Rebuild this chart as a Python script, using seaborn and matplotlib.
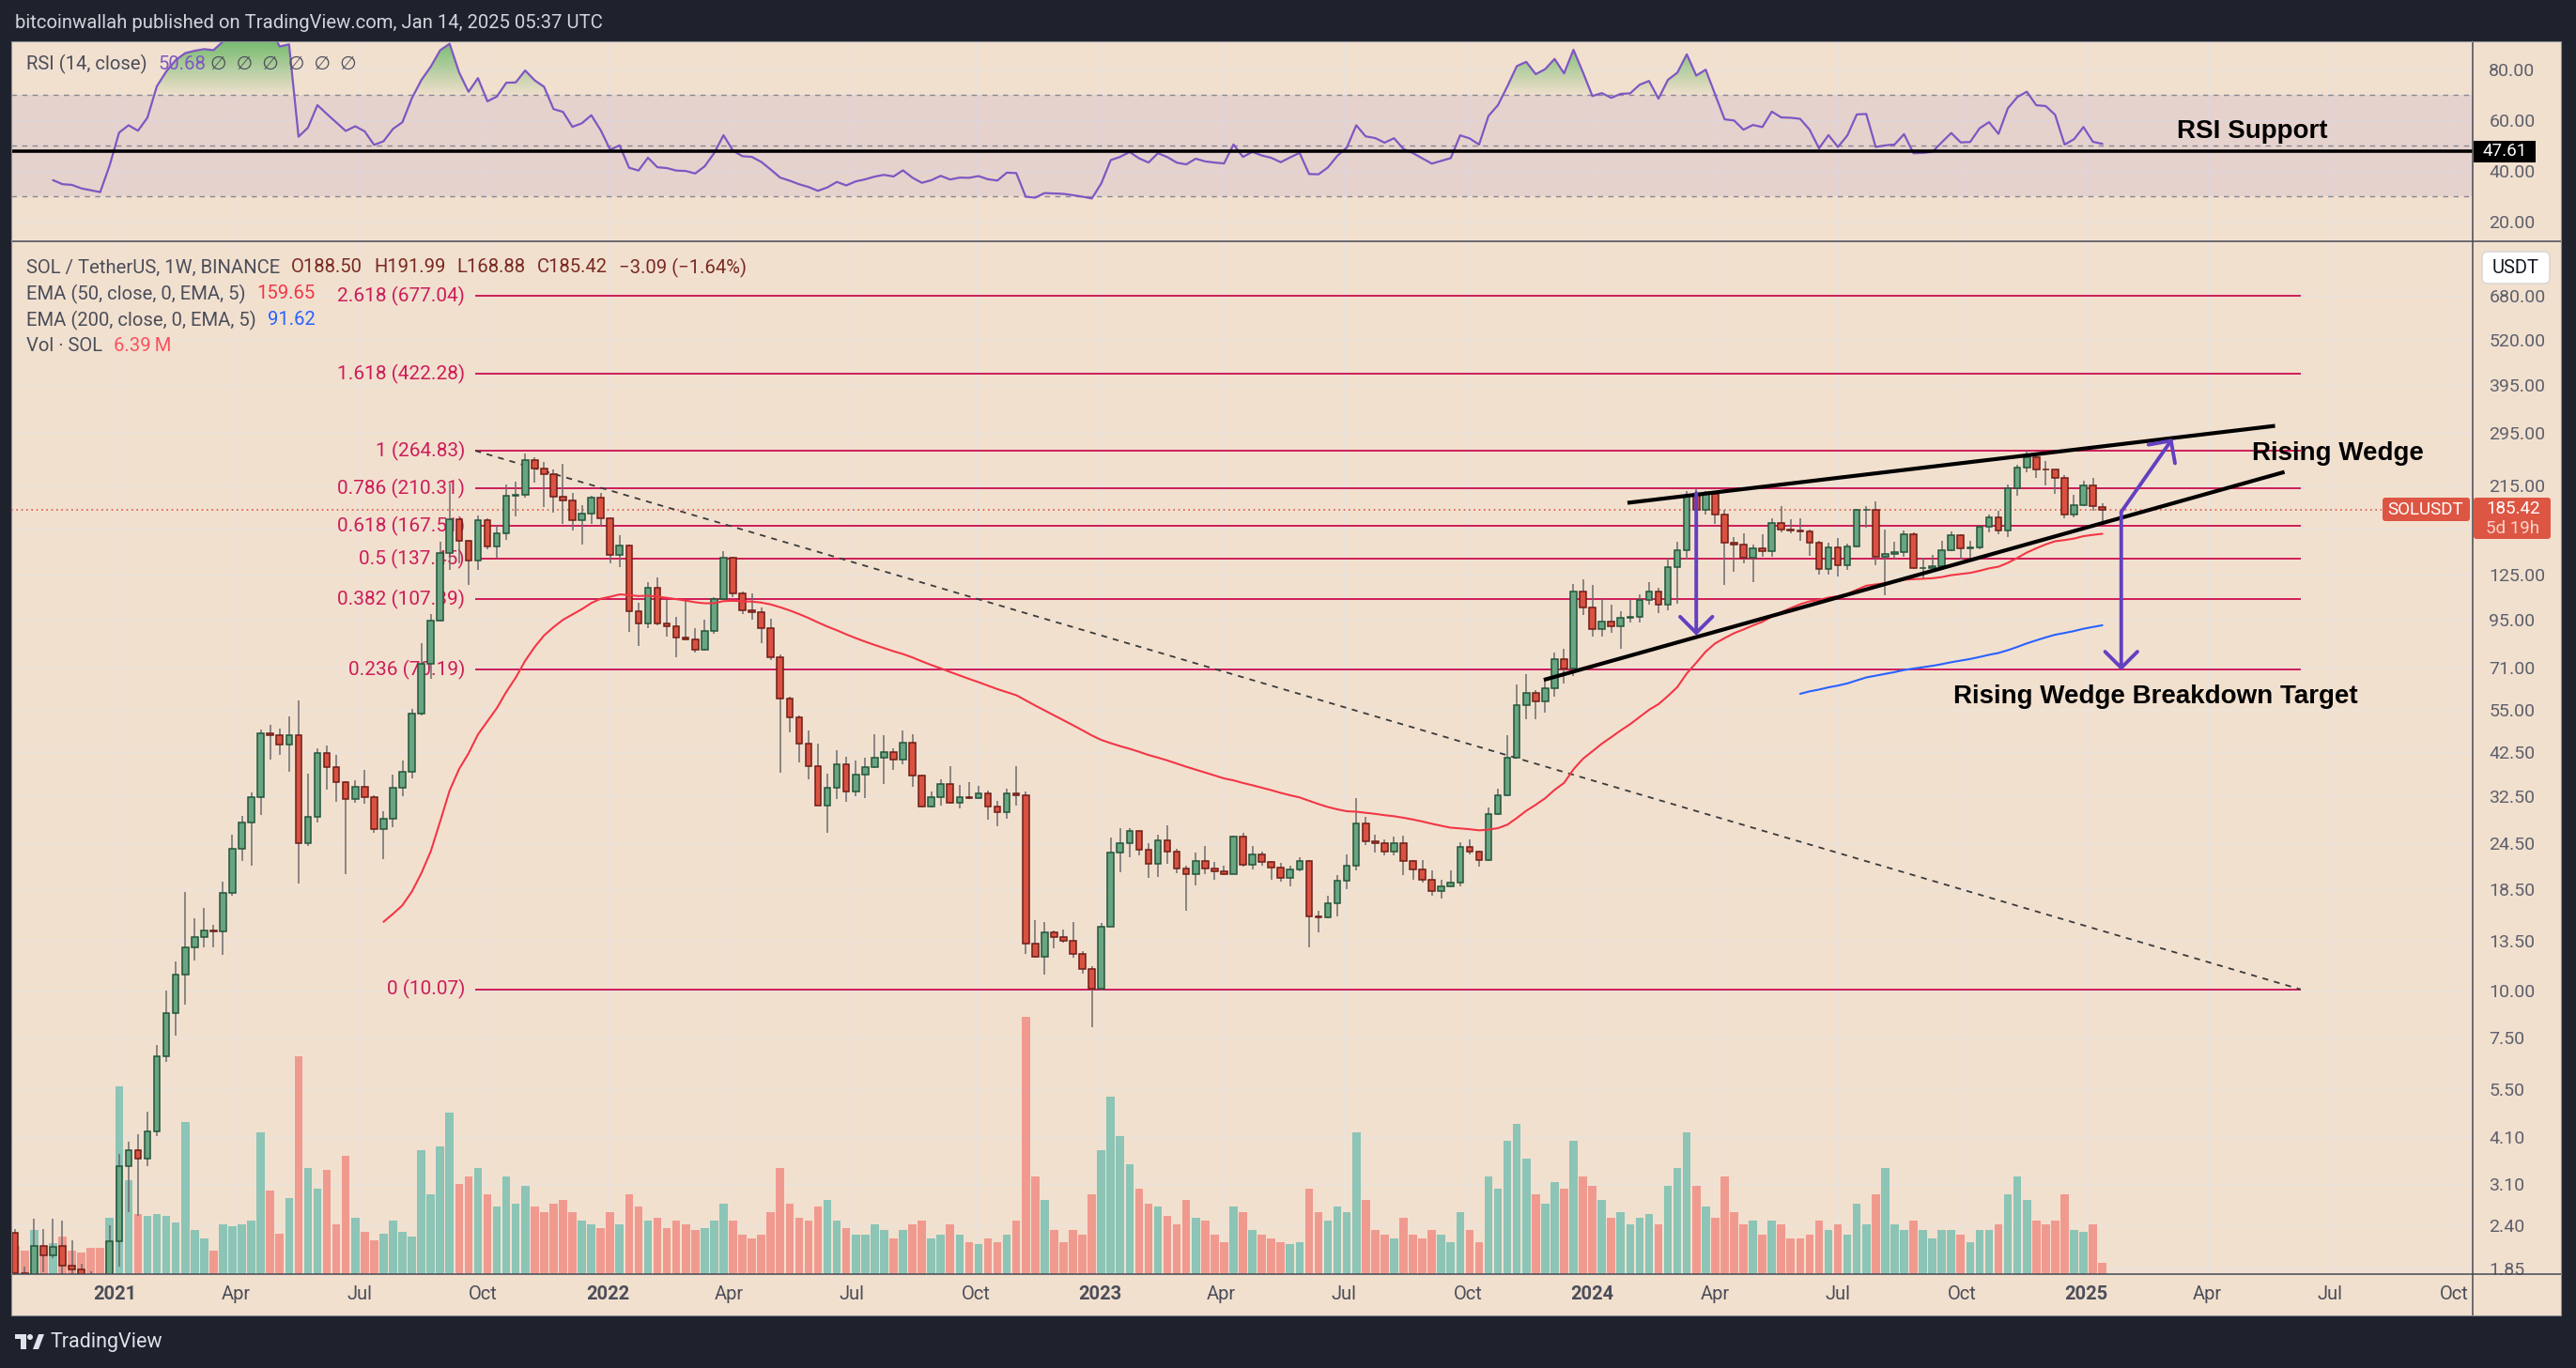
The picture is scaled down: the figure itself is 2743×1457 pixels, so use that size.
import numpy as np
import pandas as pd
import matplotlib
matplotlib.use("Agg")
import matplotlib.pyplot as plt
import matplotlib.dates as mdates
from matplotlib.patches import Rectangle, FancyBboxPatch, Polygon, Circle
from matplotlib.path import Path
from matplotlib.ticker import NullLocator
import seaborn as sns

# ---------------- data (weekly SOL/USDT candles) ----------------
start_date = "2020-08-10"

opens = [3.05, 3.60, 3.45, 4.30, 2.85, 2.70, 3.20, 2.95, 2.65, 2.55,
         2.30, 1.80, 1.60, 2.12, 2.00, 2.12, 1.88, 1.84, 1.65, 1.55,
         1.45, 2.18, 3.44, 3.80, 3.60, 4.26, 6.70, 8.70, 11.0, 13.0,
         13.8, 14.4, 14.35, 18.1, 23.7, 27.8, 32.3, 47.6, 47.0, 44.4,
         47.0, 24.4, 28.7, 42.2, 38.8, 35.4, 31.9, 34.4, 32.4, 26.7,
         28.3, 34.2, 37.7, 53.8, 72.8, 94.4, 142, 174.5, 153, 135.7,
         173.5, 148, 160, 202, 203, 250, 238, 230, 200, 196,
         173.5, 181, 199, 176, 141, 149, 100, 93, 115.6, 93,
         91, 85.2, 84.3, 79, 88.6, 107.5, 138, 111.2, 100.6, 99.3,
         90.1, 75.6, 59, 52.5, 44.8, 39.0, 30.8, 34.2, 39.6, 33.4,
         37.1, 38.9, 41.2, 42.6, 40.6, 45.1, 36.8, 30.6, 32.3, 35.1,
         31.3, 32.4, 32.2, 33.1, 30.5, 29.5, 33.0, 32.7, 13.3, 12.3,
         14.2, 13.8, 13.5, 12.5, 11.4, 10.1, 14.7, 23.1, 24.4, 26.3,
         23.5, 21.6, 24.9, 23.3, 21.0, 20.3, 22.0, 21.0, 20.6, 20.3,
         25.4, 21.5, 22.8, 21.8, 21.1, 19.8, 20.9, 21.9, 15.7, 15.6,
         17.0, 19.5, 21.4, 27.5, 24.8, 24.4, 23.3, 24.4, 21.9, 20.9,
         19.6, 18.3, 18.8, 19.3, 23.9, 23.3, 22.1, 29.2, 32.8, 41.2,
         56.4, 61.0, 58.0, 62.7, 74.9, 70.8, 112.7, 102.5, 89.8, 93.7,
         91.1, 95.9, 96.5, 107.3, 112.6, 103.8, 130.8, 144.9, 202, 185,
         203.5, 180, 151.4, 150, 138.4, 146.3, 143.8, 170.5, 164, 163.6,
         162.5, 151.4, 129.4, 147.1, 131.8, 147.9, 184.6, 185.5, 139, 141.6,
         143, 159.2, 129.7, 130.2, 131.6, 145, 159, 146.5, 147, 167,
         177, 163, 210.5, 238.6, 254, 237, 236, 225, 180.3, 190,
         214, 188.5]

highs = [3.95, 4.00, 4.90, 4.70, 3.10, 3.70, 3.40, 3.10, 2.80, 2.70,
         2.35, 1.87, 2.50, 2.35, 2.50, 2.48, 2.20, 1.90, 1.82, 1.70,
         2.40, 3.70, 4.00, 4.19, 4.80, 7.20, 10.0, 11.9, 18.2, 15.5,
         16.5, 14.9, 19.4, 25.7, 28.9, 33.2, 48.7, 50.2, 49.1, 52.8,
         58.3, 37.2, 43.6, 44.3, 41.9, 35.7, 35.9, 38.1, 32.7, 29.7,
         37.0, 40.5, 55.2, 82.4, 98.0, 152, 217, 176, 154, 179,
         176, 168, 216, 220, 260, 255, 247, 236, 245, 205,
         190, 201, 205, 176.5, 159, 149.5, 105, 119, 123, 107,
         96.8, 107, 90, 95, 108.6, 144.3, 139, 112.6, 111.6, 102.5,
         95.4, 77.1, 59.5, 53, 48.4, 44.8, 37.4, 43.1, 41.4, 40.4,
         41.1, 47.5, 47.0, 43.6, 48.6, 47.5, 37.0, 33.5, 36.1, 39.1,
         34.9, 35.5, 34.7, 33.6, 31.7, 34.0, 39.0, 33.5, 15.3, 15.2,
         14.4, 14.5, 15.2, 12.7, 11.6, 15.1, 25.3, 26.8, 26.8, 26.4,
         24.4, 25.8, 27.2, 23.6, 21.3, 23.1, 24.0, 21.8, 21.4, 25.6,
         26.0, 24.1, 23.3, 21.9, 21.7, 21.4, 22.5, 22.1, 16.2, 17.8,
         20.1, 22.8, 32.2, 28.7, 25.8, 25.0, 25.4, 25.6, 22.1, 22.1,
         20.7, 19.6, 20.7, 24.6, 25.0, 23.4, 30.4, 34.1, 47.0, 64.1,
         68.2, 61.9, 65.6, 77.9, 79.4, 118, 121, 117, 107.5, 104,
         100, 107, 111, 119, 115, 138, 152, 207, 210, 207.7,
         207, 185.5, 156.6, 160.3, 150, 159.7, 176.2, 189, 174.5, 176,
         164, 152.9, 151.4, 155.7, 150.5, 186.5, 189, 195, 164, 152.4,
         163, 161.3, 138.3, 140.4, 153.5, 161.9, 159.5, 153.3, 168.1, 179.3,
         184, 215.7, 243, 265, 258.5, 249, 237, 229, 203, 221,
         224.5, 191.99]

lows = [2.95, 3.10, 3.30, 2.60, 2.30, 2.60, 2.80, 2.60, 2.40, 2.20,
        1.75, 1.45, 1.50, 1.81, 1.97, 1.70, 1.78, 1.55, 1.45, 1.20,
        1.40, 1.87, 2.60, 2.55, 3.45, 4.14, 6.50, 7.60, 9.20, 12.0,
        13.0, 13.0, 12.4, 17.8, 22.0, 21.3, 29.0, 40.7, 41.7, 37.7,
        19.2, 24.0, 27.7, 33.8, 31.5, 20.3, 31.2, 31.1, 26.1, 22.2,
        27.0, 32.5, 36.3, 53.1, 66.4, 94.0, 128.8, 134, 117, 128.8,
        146, 138, 154, 178, 199, 218, 188, 182, 170, 163,
        150, 170, 168, 134, 131, 88.4, 81, 90, 91.6, 85.8,
        75.7, 84, 78, 78.5, 87.3, 107, 108.6, 98.3, 95, 82.4,
        74.2, 37.6, 48, 40, 36.1, 30.7, 26.0, 32.0, 31.4, 32.6,
        32.1, 38.5, 35.0, 38.1, 39.5, 34.4, 30.4, 30.3, 30.8, 31.1,
        30.2, 32.0, 32.0, 28.2, 27.1, 28.4, 30.8, 12.5, 12.2, 11.0,
        12.9, 13.4, 12.2, 11.1, 8.0, 10.0, 14.7, 20.5, 22.5, 22.7,
        19.8, 19.9, 21.6, 20.4, 16.2, 18.9, 20.3, 19.6, 20.1, 20.3,
        21.2, 20.8, 21.4, 19.6, 19.4, 18.8, 20.6, 13.0, 14.2, 15.5,
        15.7, 18.5, 20.7, 24.2, 23.1, 22.7, 22.7, 20.2, 19.6, 19.3,
        17.8, 17.5, 18.7, 18.8, 22.9, 21.2, 22.0, 29.0, 32.6, 41.0,
        51.8, 51.8, 54.1, 59.5, 64.4, 67.5, 97.7, 85.7, 85.7, 87.7,
        79.4, 93.6, 93.6, 104, 98.7, 100.6, 104.8, 137, 164, 180,
        169.6, 117, 127, 134, 119, 139.4, 139, 161.6, 160, 153,
        140, 124.6, 124.6, 123.4, 128.8, 147.1, 166, 131.8, 110, 137.6,
        139.4, 129, 121.5, 128.3, 129.5, 144, 136.8, 137.4, 146, 161,
        159.8, 156.7, 202, 232, 224, 215, 203.8, 176, 177, 189,
        184, 168.88]

closes = [3.60, 3.45, 4.30, 2.85, 2.70, 3.20, 2.95, 2.65, 2.55, 2.30,
          1.80, 1.60, 2.12, 2.00, 2.11, 1.88, 1.84, 1.65, 1.55, 1.45,
          2.18, 3.44, 3.80, 3.60, 4.26, 6.70, 8.70, 11.0, 13.0, 13.8,
          14.4, 14.35, 18.1, 23.7, 27.8, 32.3, 47.6, 47.0, 44.4, 47.0,
          24.4, 28.7, 42.2, 38.8, 35.4, 31.9, 34.4, 32.4, 26.7, 28.3,
          34.2, 37.7, 53.8, 72.8, 94.4, 142, 174.5, 153, 135.7, 173.5,
          148, 160, 202, 203, 250, 238, 230, 200, 196, 173.5,
          181, 199, 176, 141, 149, 100, 93, 115.6, 93, 91,
          85.2, 84.3, 79, 88.6, 107.5, 138, 111.2, 100.6, 99.3, 90.1,
          75.6, 59, 52.5, 44.8, 39.0, 30.8, 34.2, 39.6, 33.4, 37.1,
          38.9, 41.2, 42.6, 40.6, 45.1, 36.8, 30.6, 32.3, 35.1, 31.3,
          32.4, 32.2, 33.1, 30.5, 29.5, 33.0, 32.7, 13.3, 12.3, 14.2,
          13.8, 13.5, 12.5, 11.4, 10.1, 14.7, 23.1, 24.4, 26.3, 23.5,
          21.6, 24.9, 23.3, 21.0, 20.3, 22.0, 21.0, 20.6, 20.3, 25.4,
          21.5, 22.9, 21.8, 21.1, 19.8, 20.9, 21.9, 15.7, 15.6, 17.0,
          19.5, 21.4, 27.5, 24.8, 24.4, 23.3, 24.4, 21.9, 20.9, 19.6,
          18.3, 18.8, 19.3, 23.9, 23.3, 22.1, 29.2, 32.8, 41.2, 56.4,
          61.0, 58.0, 62.7, 74.9, 70.8, 112.7, 102.5, 89.8, 93.7, 91.1,
          95.9, 96.5, 107.3, 112.6, 103.8, 130.8, 144.9, 202, 185, 203.5,
          180, 151.4, 150, 138.4, 146.3, 143.8, 170.5, 164, 163.6, 162.5,
          151.4, 129.4, 147.1, 131.8, 147.9, 184.6, 185.5, 139, 141.6, 143,
          159.2, 129.7, 130.2, 131.6, 145, 159, 146.5, 147, 167, 177,
          163, 210.5, 238.6, 254, 237, 236, 225, 180.3, 190, 214,
          189, 185.42]

volumes_m = [26, 21, 32, 29, 21, 24, 16, 13, 12, 13,
             16, 13, 25, 13, 17.5, 21, 13, 12, 15, 15,
             32, 106, 53, 34, 33, 34, 33, 29, 86, 25,
             20, 13, 28, 27, 28, 30, 80, 47, 23, 43,
             123, 60, 48, 59, 28, 67, 32, 24, 19, 23,
             30, 24, 21, 70, 45, 72, 91, 51, 55, 60,
             45, 38, 55, 40, 50, 38, 35, 40, 42, 35,
             30, 28, 26, 35, 28, 45, 38, 30, 32, 26,
             30, 28, 25, 26, 30, 40, 30, 22, 20, 22,
             35, 60, 40, 32, 30, 38, 42, 30, 26, 22,
             22, 28, 25, 20, 25, 28, 30, 20, 22, 28,
             22, 18, 17, 20, 18, 22, 30, 145, 55, 42,
             25, 18, 25, 22, 45, 70, 100, 78, 62, 48,
             40, 38, 33, 28, 42, 32, 30, 22, 18, 38,
             35, 25, 22, 20, 18, 17, 18, 48, 35, 30,
             38, 35, 80, 42, 25, 22, 20, 32, 22, 20,
             25, 22, 18, 35, 25, 18, 55, 48, 75, 85,
             65, 45, 40, 52, 48, 75, 55, 50, 42, 32,
             35, 28, 32, 34, 28, 50, 60, 80, 50, 38,
             32, 55, 35, 28, 30, 22, 30, 28, 20, 20,
             22, 30, 25, 28, 22, 40, 28, 45, 60, 28,
             25, 30, 25, 20, 25, 25, 22, 18, 25, 25,
             28, 45, 55, 42, 30, 28, 30, 45, 25, 24,
             28, 6.39]

fib_ratios = ["2.618", "1.618", "1", "0.786", "0.618", "0.5", "0.382", "0.236", "0"]
fib_prices = [677.04, 422.28, 264.83, 210.31, 167.51, 137.45, 107.39, 70.19, 10.07]
fib_start = "2021-09-25"
fib_end = "2025-06-09"

price_ticks = [680, 520, 395, 295, 215, 165, 125, 95, 71, 55, 42.5, 32.5,
               24.5, 18.5, 13.5, 10, 7.5, 5.5, 4.1, 3.1, 2.4, 1.85]
hidden_price_labels = [165]   # covered by the last-price label on the axis
rsi_ticks = [20, 40, 60, 80]
x_tick_dates = ["2021-01-01", "2021-04-01", "2021-07-01", "2021-10-01",
                "2022-01-01", "2022-04-01", "2022-07-01", "2022-10-01",
                "2023-01-01", "2023-04-01", "2023-07-01", "2023-10-01",
                "2024-01-01", "2024-04-01", "2024-07-01", "2024-10-01",
                "2025-01-01", "2025-04-01", "2025-07-01", "2025-10-01"]
x_tick_labels = ["2021", "Apr", "Jul", "Oct", "2022", "Apr", "Jul", "Oct",
                 "2023", "Apr", "Jul", "Oct", "2024", "Apr", "Jul", "Oct",
                 "2025", "Apr", "Jul", "Oct"]

rsi_support = 47.61
last_close = 185.42

# drawings (date, price)
wedge_upper = [("2024-01-27", 193.0), ("2025-05-21", 308.0)]
wedge_lower = [("2023-11-26", 65.9), ("2025-05-28", 232.8)]
arrow_small = [("2024-03-18", 205.0), ("2024-03-18", 86.3)]
arrow_down = [("2025-01-27", 182.7), ("2025-01-27", 69.8)]
arrow_up = [("2025-01-27", 182.7), ("2025-03-06", 285.0)]

# ---------------- style ----------------
sns.set_theme(style="white")
plt.rcParams['font.family'] = ['Roboto', 'DejaVu Sans']

W, H, DPI = 2743, 1457, 100
DARK = '#1E222D'
BEIGE = '#F2E0CF'
GRID = '#EAE3DE'
SEP = '#454955'
GREEN_B, GREEN_E = '#69A582', '#23553A'
RED_B, RED_E = '#D95241', '#6E1D16'
WICK = '#6C6C6E'
VOL_G, VOL_R = '#8CC4B6', '#F09A8F'
EMA50_C, EMA200_C = '#F23645', '#2962FF'
FIB_C = '#CD1D58'
PURPLE = '#7E57C2'
ARROW_C = '#6240C0'
LBL_RED = '#DD5643'
TXT = '#4B4E59'
AXT = '#5D606B'

# ---------------- indicators ----------------
N = len(closes)
dates = pd.date_range(start_date, periods=N, freq="7D")
xn = mdates.date2num(dates.to_pydatetime())
o = np.array(opens); h = np.array(highs); l = np.array(lows); c = np.array(closes)
v = np.array(volumes_m)
up = c >= o


def ema(vals, n):
    out = np.full(len(vals), np.nan)
    out[n - 1] = np.mean(vals[:n])
    a = 2.0 / (n + 1)
    for k in range(n, len(vals)):
        out[k] = a * vals[k] + (1 - a) * out[k - 1]
    return out


def rsi_calc(vals, n=14):
    d = np.diff(vals)
    g = np.clip(d, 0, None)
    ls = np.clip(-d, 0, None)
    out = np.full(len(vals), np.nan)
    ag, al = g[:n].mean(), ls[:n].mean()
    out[n] = 100 - 100 / (1 + ag / al)
    for k in range(n + 1, len(vals)):
        ag = (ag * (n - 1) + g[k - 1]) / n
        al = (al * (n - 1) + ls[k - 1]) / n
        out[k] = 100.0 if al == 0 else 100 - 100 / (1 + ag / al)
    return out


ema50 = ema(c, 50)
ema200 = ema(c, 200)
rsi = rsi_calc(c, 14)


def d2n(s):
    return mdates.date2num(pd.Timestamp(s).to_pydatetime())


XL = (d2n("2020-10-16 02:00"), d2n("2025-10-14 12:00"))
YL = (1.789, 944.0)
RL = (12.3, 90.9)
VOL_TOP = 583.0

# ---------------- figure ----------------
fig = plt.figure(figsize=(W / DPI, H / DPI), dpi=DPI)
fig.patch.set_facecolor(DARK)
fig.add_artist(Rectangle((12 / W, 1 - 1401 / H), (2727 - 12) / W, (1401 - 44) / H,
                         transform=fig.transFigure, facecolor=BEIGE,
                         edgecolor='none', zorder=-10))


def frect(x0, y0, x1, y1):
    return [x0 / W, 1 - y1 / H, (x1 - x0) / W, (y1 - y0) / H]


ax_grid = fig.add_axes(frect(12, 257, 2633, 1357))
ax_rsi = fig.add_axes(frect(12, 44, 2633, 257), sharex=ax_grid)
ax_vol = fig.add_axes(frect(12, 257, 2633, 1357), sharex=ax_grid)
ax = fig.add_axes(frect(12, 257, 2633, 1357), sharex=ax_grid)

for a in (ax_grid, ax_rsi, ax_vol, ax):
    a.set_facecolor('none')
    for s in a.spines.values():
        s.set_visible(False)

xt = [d2n(s) for s in x_tick_dates]

# grid axes
ax_grid.set_yscale('log')
ax_grid.set_ylim(*YL)
ax_grid.set_yticks(price_ticks)
ax_grid.yaxis.set_minor_locator(NullLocator())
ax_grid.set_xticks(xt)
ax_grid.grid(True, which='major', color=GRID, lw=1.0)
ax_grid.tick_params(which='both', length=0, labelleft=False, labelbottom=False,
                    left=False, bottom=False)

# volume
ax_vol.bar(xn, v, width=6.0, color=[VOL_G if u else VOL_R for u in up],
           linewidth=0, zorder=1)
ax_vol.set_ylim(0, VOL_TOP)
ax_vol.axis('off')

# price axes
ax.set_yscale('log')
ax.vlines(xn, l, h, colors=WICK, lw=1.1, zorder=2)
blo = np.minimum(o, c)
bhi = np.maximum(np.maximum(o, c), blo * 1.004)
ax.bar(xn, bhi - blo, bottom=blo, width=4.6,
       color=[GREEN_B if u else RED_B for u in up],
       edgecolor=[GREEN_E if u else RED_E for u in up], linewidth=1.1, zorder=3)

m50 = ~np.isnan(ema50)
m200 = ~np.isnan(ema200)
sns.lineplot(x=xn[m50], y=ema50[m50], ax=ax, color=EMA50_C, linewidth=1.5, zorder=4)
sns.lineplot(x=xn[m200], y=ema200[m200], ax=ax, color=EMA200_C, linewidth=1.5, zorder=4)

fs, fe = d2n(fib_start), d2n(fib_end)
ax.hlines(fib_prices, fs, fe, colors=FIB_C, lw=1.4, zorder=1)
for r, p in zip(fib_ratios, fib_prices):
    ax.annotate(f"{r} ({p:.2f})", xy=(fs, p), xytext=(-8, 0), textcoords='offset points',
                ha='right', va='center', color=FIB_C, fontsize=15, zorder=1)
ax.plot([fs, fe], [fib_prices[2], fib_prices[-1]], color='#3A3A3A', lw=1.3,
        ls=(0, (3.5, 3.5)), zorder=2)
ax.axhline(last_close, xmax=(2536 - 12) / 2621, color=LBL_RED, lw=1.2,
           ls=(0, (1, 2.2)), zorder=1)

for (d1, p1), (d2, p2) in (wedge_upper, wedge_lower):
    ax.plot([d2n(d1), d2n(d2)], [p1, p2], color='black', lw=3.0,
            solid_capstyle='butt', zorder=5)
for (d1, p1), (d2, p2) in (arrow_small, arrow_down, arrow_up):
    ax.annotate('', xy=(d2n(d2), p2), xytext=(d2n(d1), p1),
                arrowprops=dict(arrowstyle='->,head_length=0.62,head_width=0.62',
                                color=ARROW_C, lw=2.8, shrinkA=0, shrinkB=0,
                                mutation_scale=20), zorder=6)

ax.set_ylim(*YL)
ax.set_xlim(*XL)
ax.set_yticks(price_ticks)
ax.set_yticklabels(["" if t in hidden_price_labels else f"{t:.2f}" for t in price_ticks])
ax.yaxis.set_minor_locator(NullLocator())
ax.yaxis.tick_right()
ax.tick_params(axis='y', which='both', length=0, pad=12.5, labelsize=14,
               labelcolor=AXT, left=False, labelleft=False)
ax.set_xticks(xt)
ax.set_xticklabels(x_tick_labels)
ax.tick_params(axis='x', which='both', length=0, pad=8.5, labelsize=14.5, labelcolor=TXT)
for lab in ax.get_xticklabels():
    if lab.get_text().isdigit():
        lab.set_fontweight('bold')
ax.set_xlabel('')
ax.set_ylabel('')

# RSI panel
ax_rsi.axhspan(30, 70, color=PURPLE, alpha=0.10, lw=0, zorder=0.6)
for lv in (70, 50, 30):
    ax_rsi.axhline(lv, color='#868993', lw=1.0, ls=(0, (4, 4)), zorder=0.8)
rsi_f = np.where(np.isnan(rsi), 0.0, rsi)
fb = ax_rsi.fill_between(xn, 70, rsi_f, where=rsi_f > 70, interpolate=True,
                         facecolor='none', edgecolor='none')
paths = fb.get_paths()
if paths:
    cp = Path.make_compound_path(*paths)
    grad = np.zeros((256, 1, 4))
    grad[..., 0], grad[..., 1], grad[..., 2] = 0.30, 0.69, 0.31
    grad[:, 0, 3] = np.linspace(0.02, 0.75, 256)
    im = ax_rsi.imshow(grad, extent=[xn[0], xn[-1], 70, RL[1]], origin='lower',
                       aspect='auto', zorder=1.5, interpolation='bilinear')
    im.set_clip_path(cp, transform=ax_rsi.transData)
mr = ~np.isnan(rsi)
sns.lineplot(x=xn[mr], y=rsi[mr], ax=ax_rsi, color=PURPLE, linewidth=1.6, zorder=2)
ax_rsi.axhline(rsi_support, color='black', lw=2.6, zorder=3)
ax_rsi.set_ylim(*RL)
ax_rsi.set_xlim(*XL)
ax_rsi.set_yticks(rsi_ticks)
ax_rsi.set_yticklabels([f"{t:.2f}" for t in rsi_ticks])
ax_rsi.yaxis.tick_right()
ax_rsi.set_axisbelow(True)
ax_rsi.grid(True, which='major', color=GRID, lw=1.0, zorder=0.5)
ax_rsi.tick_params(axis='y', length=0, pad=12.5, labelsize=14, labelcolor=AXT)
ax_rsi.tick_params(axis='x', length=0, labelbottom=False)
ax_rsi.set_xlabel('')
ax_rsi.set_ylabel('')
ax.set_xlim(*XL)

# ---------------- overlay (pixel coordinates) ----------------
ov = fig.add_axes([0, 0, 1, 1], zorder=20)
ov.set_xlim(0, W)
ov.set_ylim(H, 0)
ov.axis('off')
ov.patch.set_visible(False)

ov.plot([12, 2727], [257, 257], color=SEP, lw=1.1, zorder=1)
ov.plot([2633, 2633], [44, 1401], color=SEP, lw=1.1, zorder=1)
ov.plot([12, 2727], [1357, 1357], color=SEP, lw=1.1, zorder=1)
ov.add_patch(Rectangle((12, 44), 2715, 1357, fill=False, edgecolor='#8A8D96',
                       lw=0.8, zorder=1))

ov.text(16, 25, "bitcoinwallah published on TradingView.com, Jan 14, 2025 05:37 UTC",
        color='#D1D4DC', fontsize=14.6, va='center', ha='left')

renderer = fig.canvas.get_renderer()


def pieces(x, y, items, size=14.6):
    for txt, col, gap in items:
        t = ov.text(x, y, txt, color=col, fontsize=size, ha='left', va='center', zorder=4)
        x += t.get_window_extent(renderer).width + gap


DRED = '#7A2A22'
pieces(28, 68, [("RSI (14, close)", TXT, 12), ("50.68", PURPLE, 4),
                ("\u2205  \u2205  \u2205  \u2205  \u2205  \u2205", TXT, 0)])
pieces(28, 285, [("SOL / TetherUS, 1W, BINANCE", TXT, 12), ("O188.50", DRED, 12),
                 ("H191.99", DRED, 12), ("L168.88", DRED, 12), ("C185.42", DRED, 12),
                 ("\u22123.09 (\u22121.64%)", DRED, 0)])
pieces(28, 313, [("EMA (50, close, 0, EMA, 5)", TXT, 12), ("159.65", EMA50_C, 0)])
pieces(28, 341, [("EMA (200, close, 0, EMA, 5)", TXT, 12), ("91.62", EMA200_C, 0)])
pieces(28, 369, [("Vol \u00b7 SOL", TXT, 12), ("6.39\u2009M", '#F7525F', 0)])

bold = dict(family=['Liberation Sans', 'DejaVu Sans'], fontweight='bold',
            fontsize=20, color='black', ha='center', va='center', zorder=4)
ov.text(2398, 140, "RSI Support", **bold)
ov.text(2489, 483, "Rising Wedge", **bold)
ov.text(2295, 742, "Rising Wedge Breakdown Target", **bold)

# price-axis labels
ov.add_patch(Rectangle((2634, 150), 66, 23, facecolor='black', edgecolor='none', zorder=5))
ov.text(2667, 161.5, "47.61", color='white', fontsize=13.5, ha='center', va='center', zorder=6)
ov.add_patch(FancyBboxPatch((2643, 268), 72, 34, boxstyle='round,pad=0,rounding_size=6',
                            facecolor='white', edgecolor='#D4D4D4', lw=1, zorder=5))
ov.text(2679, 285.5, "USDT", color='#131722', fontsize=14.5, ha='center', va='center', zorder=6)
ov.add_patch(FancyBboxPatch((2537, 530), 93, 25, boxstyle='round,pad=0,rounding_size=3',
                            facecolor=LBL_RED, edgecolor='none', zorder=5))
ov.text(2583, 542.5, "SOLUSDT", color='white', fontsize=13.5, ha='center', va='center', zorder=6)
ov.add_patch(FancyBboxPatch((2634, 530), 82, 44, boxstyle='round,pad=0,rounding_size=3',
                            facecolor=LBL_RED, edgecolor='none', zorder=5))
ov.text(2647, 542, "185.42", color='white', fontsize=13.5, ha='left', va='center', zorder=6)
ov.text(2647, 563, "5d 19h", color='#F8D5CD', fontsize=13.5, ha='left', va='center', zorder=6)

# footer logo
LOGO = '#E0E3EB'
ov.add_patch(Rectangle((16, 1421), 12, 5, facecolor=LOGO, edgecolor='none'))
ov.add_patch(Rectangle((22, 1421), 6, 16, facecolor=LOGO, edgecolor='none'))
ov.add_patch(Circle((32, 1424), 3, facecolor=LOGO, edgecolor='none'))
ov.add_patch(Polygon([(35, 1437), (41, 1421), (47, 1421), (41, 1437)], closed=True,
                     facecolor=LOGO, edgecolor='none'))
ov.text(53, 1429, "TradingView", color=LOGO, fontsize=15.5, ha='left', va='center')

fig.savefig("out.png", dpi=DPI, facecolor=DARK)
